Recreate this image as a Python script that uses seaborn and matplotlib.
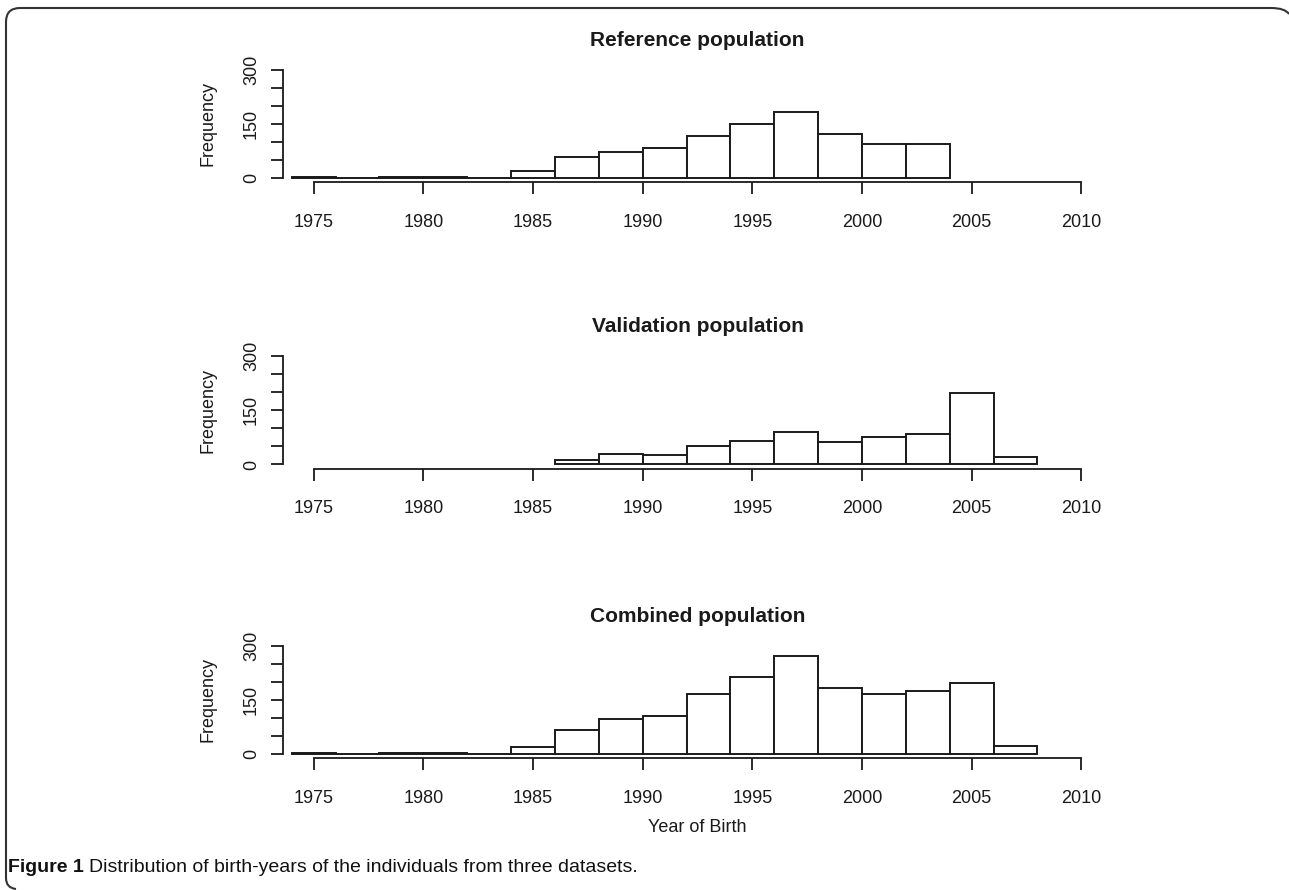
import matplotlib
matplotlib.use('Agg')

import matplotlib.pyplot as plt
import seaborn as sns
import pandas as pd
from matplotlib.path import Path
from matplotlib.patches import PathPatch

# histogram counts per 2-year bin
ref_edges = [1974, 1976, 1978, 1980, 1982, 1984, 1986, 1988, 1990, 1992,
             1994, 1996, 1998, 2000, 2002, 2004]
ref_counts = [3, 0, 2, 4, 1, 19, 57, 71, 82, 117, 150, 182, 122, 94, 94]

val_edges = [1986, 1988, 1990, 1992, 1994, 1996, 1998, 2000, 2002, 2004,
             2006, 2008]
val_counts = [11, 28, 25, 51, 66, 90, 62, 75, 83, 197, 22]

comb_edges = [1974, 1976, 1978, 1980, 1982, 1984, 1986, 1988, 1990, 1992,
              1994, 1996, 1998, 2000, 2002, 2004, 2006, 2008]
comb_counts = [3, 0, 2, 4, 1, 20, 67, 98, 106, 168, 215, 272, 182, 168,
               176, 197, 22]

titles = ['Reference population', 'Validation population', 'Combined population']
x_ticks = [1975, 1980, 1985, 1990, 1995, 2000, 2005, 2010]
y_ticks = [0, 50, 100, 150, 200, 250, 300]
y_labels = ['0', '', '', '150', '', '', '300']

sns.set_theme(style='ticks')
plt.rcParams['font.family'] = ['Liberation Sans', 'DejaVu Sans']

W, H = 1289, 890
fig = plt.figure(figsize=(W / 100, H / 100), dpi=100)

# axes boxes in pixels (top, bottom) measured from the top of the image
boxes = [(65.7, 182.3), (351.7, 468.8), (641.7, 758.3)]
left_px, right_px = 283, 1112
ink = '#1a1a1a'

panels = [(ref_edges, ref_counts), (val_edges, val_counts), (comb_edges, comb_counts)]

for (edges, counts), title, (top, bot) in zip(panels, titles, boxes):
    ax = fig.add_axes([left_px / W, 1 - bot / H, (right_px - left_px) / W, (bot - top) / H])
    df = pd.DataFrame({'year': [(a + b) / 2 for a, b in zip(edges[:-1], edges[1:])],
                       'n': counts})
    sns.histplot(data=df, x='year', weights='n', bins=list(edges), ax=ax,
                 color='white', edgecolor=ink, linewidth=1.4, alpha=1)
    ax.set_xlim(1973.6, 2011.4)
    ax.set_ylim(-12, 312)
    ax.set_facecolor('none')
    for s in ['top', 'right']:
        ax.spines[s].set_visible(False)
    ax.spines['left'].set_bounds(0, 300)
    ax.spines['bottom'].set_bounds(1975, 2010)
    for s in ['left', 'bottom']:
        ax.spines[s].set_linewidth(1.3)
        ax.spines[s].set_color(ink)
    ax.set_xticks(x_ticks)
    ax.set_xticklabels([str(t) for t in x_ticks])
    ax.set_yticks(y_ticks)
    ax.set_yticklabels(y_labels)
    ax.tick_params(axis='both', length=8.5, width=1.3, color=ink,
                   labelsize=13, labelcolor=ink)
    ax.tick_params(axis='x', pad=14)
    ax.tick_params(axis='y', pad=8, labelrotation=90)
    for lbl in ax.get_yticklabels():
        lbl.set_va('center')
    ax.set_ylabel('Frequency', fontsize=13, color=ink, labelpad=19)
    ax.set_xlabel('')
    ax.text(0.5, 1 + 25.7 / (bot - top), title, transform=ax.transAxes,
            ha='center', va='center', fontsize=15, fontweight='bold', color=ink)

fig.text((left_px + right_px) / 2 / W, 1 - 827 / H, 'Year of Birth',
         ha='center', va='center', fontsize=13, color=ink)

# caption
cap_font = ['Liberation Sans Narrow', 'Liberation Sans', 'DejaVu Sans']
t1 = fig.text(8 / W, 1 - 868 / H, 'Figure 1', ha='left', va='center',
              fontsize=14, fontweight='bold', family=cap_font, color='#111111')
fig.canvas.draw()
bb = t1.get_window_extent()
fig.text((bb.x1 + 5) / W, 1 - 868 / H, 'Distribution of birth-years of the individuals from three datasets.',
         ha='left', va='center', fontsize=14, family=cap_font, color='#111111')

# rounded frame around the figure panel
r = 14
verts = [(6, 878), (6, 8 + r), (6, 8), (6 + r, 8), (1285 - r, 8), (1285, 8), (1289, 14)]
codes = [Path.MOVETO, Path.LINETO, Path.CURVE3, Path.CURVE3, Path.LINETO, Path.CURVE3, Path.CURVE3]
verts = [(x / W, 1 - y / H) for x, y in verts]
fig.patches.append(PathPatch(Path(verts, codes), transform=fig.transFigure,
                             fill=False, edgecolor='#333333', linewidth=1.5))
bl = [(6, 878), (6, 888), (16, 889)]
bl = [(x / W, 1 - y / H) for x, y in bl]
fig.patches.append(PathPatch(Path(bl, [Path.MOVETO, Path.CURVE3, Path.CURVE3]),
                             transform=fig.transFigure, fill=False,
                             edgecolor='#333333', linewidth=1.5))

plt.savefig('out.png', dpi=100)
plt.close()
